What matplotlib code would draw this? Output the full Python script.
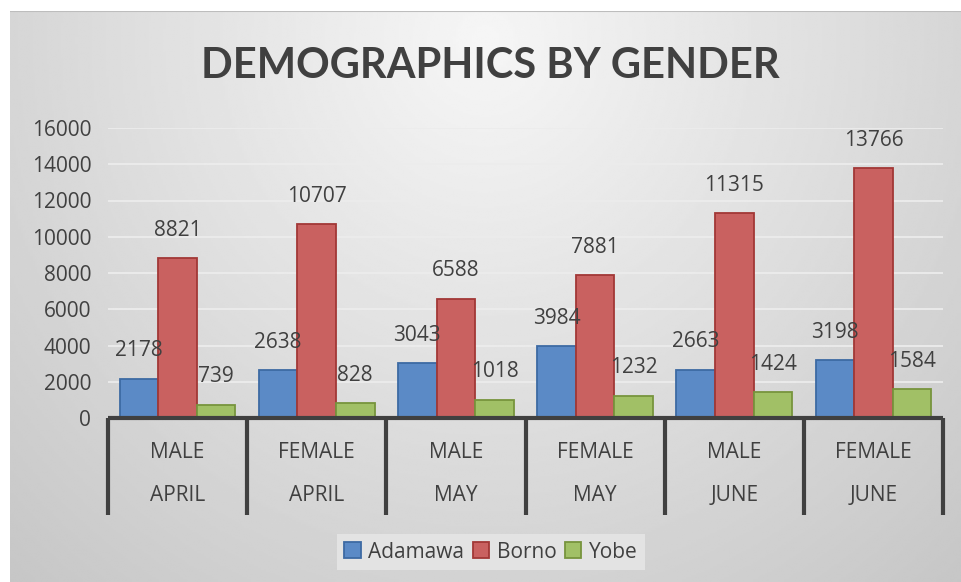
import matplotlib.pyplot as plt
from matplotlib.patches import Patch
from matplotlib.transforms import blended_transform_factory
import numpy as np

# data
genders = ["MALE", "FEMALE", "MALE", "FEMALE", "MALE", "FEMALE"]
months = ["APRIL", "APRIL", "MAY", "MAY", "JUNE", "JUNE"]
adamawa = [2178, 2638, 3043, 3984, 2663, 3198]
borno = [8821, 10707, 6588, 7881, 11315, 13766]
yobe = [739, 828, 1018, 1232, 1424, 1584]
yticks = [0, 2000, 4000, 6000, 8000, 10000, 12000, 14000, 16000]

series = [
    ("Adamawa", adamawa, "#5b8ac6", "#3d6aa3"),
    ("Borno", borno, "#c96160", "#a23836"),
    ("Yobe", yobe, "#a1c066", "#77943d"),
]

plt.rcParams["font.family"] = ["Open Sans", "DejaVu Sans"]
txt = "#404040"

W, H = 961, 582
fig = plt.figure(figsize=(W / 100, H / 100), dpi=100)
fig.patch.set_facecolor("white")

# gray gradient background of the chart area
bg = fig.add_axes([10 / W, 0, 951 / W, 571 / H])
bg.set_zorder(0)
xx, yy = np.meshgrid(np.linspace(0, 1, 400), np.linspace(0, 1, 300))
d = np.sqrt(((xx - 0.5) / 0.75) ** 2 + ((yy - 0.95) / 1.3) ** 2)
grad = np.clip(0.965 - 0.19 * d, 0, 1)
bg.imshow(grad, cmap="gray", vmin=0, vmax=1, extent=[0, 1, 0, 1],
          aspect="auto", origin="lower", interpolation="bilinear")
bg.axhline(1, color="#bdbdbd", lw=1.5)
bg.axis("off")

ax = fig.add_axes([108 / W, 164 / H, 835 / W, 290 / H])
ax.set_zorder(1)
ax.set_facecolor("none")

x = np.arange(len(genders))
bw = 0.277
for i, (name, vals, fc, ec) in enumerate(series):
    pos = x + (i - 1) * bw
    ax.bar(pos, vals, width=bw, color=fc, edgecolor=ec, linewidth=1.3, zorder=3)
    for px, v in zip(pos, vals):
        ax.annotate(str(v), (px, v), xytext=(0, 20), textcoords="offset points",
                    ha="center", va="center", fontsize=15, color=txt, zorder=4)

ax.set_xlim(-0.5, len(genders) - 0.5)
ax.set_ylim(0, 16000)
ax.set_yticks(yticks)
ax.tick_params(axis="y", length=0, pad=12, labelsize=15, labelcolor=txt)
ax.set_xticks([])
ax.yaxis.grid(True, color="#ececec", lw=1.3, zorder=0)
for s in ["top", "right", "left", "bottom"]:
    ax.spines[s].set_visible(False)

# multi-level category axis
tr = blended_transform_factory(ax.transData, ax.transAxes)
ax.plot([-0.5, len(genders) - 0.5], [0, 0], color="#404040", lw=3,
        transform=tr, clip_on=False, zorder=5, solid_capstyle="butt")
for b in np.arange(-0.5, len(genders), 1.0):
    ax.plot([b, b], [0, -0.335], color="#404040", lw=3, transform=tr,
            clip_on=False, zorder=5, solid_capstyle="butt")
for xi, g, m in zip(x, genders, months):
    ax.text(xi, -0.118, g, transform=tr, ha="center", va="center",
            fontsize=15, color=txt)
    ax.text(xi, -0.268, m, transform=tr, ha="center", va="center",
            fontsize=15, color=txt)

fig.text(490 / W, 1 - 66 / H, "DEMOGRAPHICS BY GENDER", ha="center",
         va="center", fontsize=30, fontweight="bold", color=txt,
         family=["Lato", "DejaVu Sans"])

handles = [Patch(facecolor=fc, edgecolor=ec, lw=1.3) for _, _, fc, ec in series]
leg = fig.legend(handles, [s[0] for s in series], loc="center",
                 bbox_to_anchor=(491 / W, 1 - 552 / H), ncol=3, fontsize=15,
                 frameon=True, fancybox=False, handlelength=0.8,
                 handleheight=0.8, handletextpad=0.35, columnspacing=0.4,
                 borderpad=0.35, labelcolor=txt)
leg.get_frame().set_facecolor("#e3e3e3")
leg.get_frame().set_edgecolor("none")
leg.get_frame().set_alpha(1)

fig.savefig("out.png", dpi=100)
